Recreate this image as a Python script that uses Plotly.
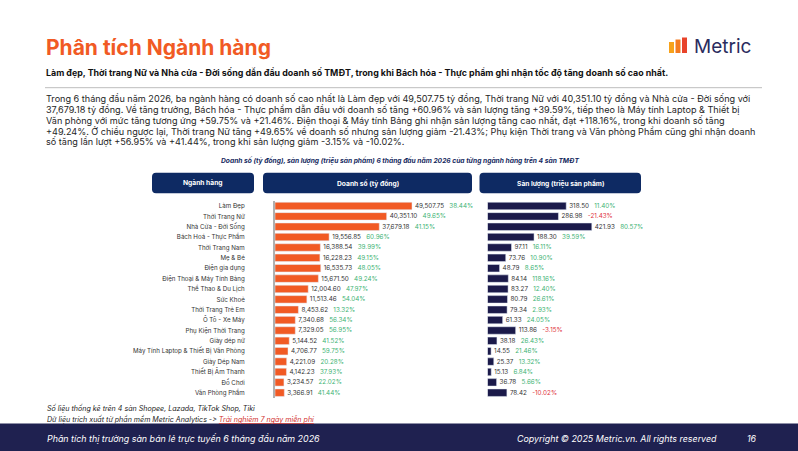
import plotly.graph_objects as go

W, H = 798, 451

categories = ["Làm Đẹp", "Thời Trang Nữ", "Nhà Cửa - Đời Sống", "Bách Hoá - Thực Phẩm",
              "Thời Trang Nam", "Mẹ & Bé", "Điện gia dụng", "Điện Thoại & Máy Tính Bảng",
              "Thể Thao & Du Lịch", "Sức Khoẻ", "Thời Trang Trẻ Em", "Ô Tô - Xe Máy",
              "Phụ Kiện Thời Trang", "Giày dép nữ", "Máy Tính Laptop & Thiết Bị Văn Phòng",
              "Giày Dép Nam", "Thiết Bị Âm Thanh", "Đồ Chơi", "Văn Phòng Phẩm"]
revenue = [49507.75, 40351.10, 37679.18, 19556.85, 16388.54, 16228.23, 16535.73, 15671.50,
           12004.60, 11513.46, 8453.62, 7340.68, 7329.05, 5144.52, 4706.77, 4221.09,
           4142.23, 3234.57, 3366.91]
revenue_growth = [38.44, 49.65, 41.15, 60.96, 39.99, 49.15, 48.05, 49.24, 47.97, 54.04,
                  13.32, 56.34, 56.95, 41.52, 59.75, 20.28, 37.93, 22.02, 41.44]
volume = [318.50, 286.98, 421.93, 188.30, 97.11, 73.76, 48.79, 84.14, 83.27, 80.79,
          79.34, 61.33, 113.86, 38.18, 14.55, 25.37, 15.13, 36.78, 78.42]
volume_growth = [11.40, -21.43, 80.57, 39.59, 16.11, 10.90, 8.65, 118.16, 12.40, 26.61,
                 2.93, 24.05, -3.15, 26.43, 21.46, 13.32, 6.84, 5.66, -10.02]

ORANGE = "#F15A24"
NAVY = "#1B1A4A"
HEAD = "#0E2A63"
GREEN = "#3DB374"
RED = "#E0313B"
FONT = "Inter"


def px(x):
    return x / W


def py(y):
    return 1 - y / H


def label(v, g):
    c = GREEN if g >= 0 else RED
    return f"{v:,.2f}&nbsp;&nbsp;&nbsp;<span style='color:{c}'>{g:.2f}%</span>"


fig = go.Figure()
fig.add_trace(go.Bar(
    x=revenue, y=categories, orientation="h", marker_color=ORANGE, width=0.72,
    text=[label(v, g) for v, g in zip(revenue, revenue_growth)], textposition="outside",
    textfont=dict(size=6.3, color="#333", family=FONT), constraintext="none",
    cliponaxis=False, xaxis="x", yaxis="y", hoverinfo="skip"))
fig.add_trace(go.Bar(
    x=volume, y=categories, orientation="h", marker_color=NAVY, width=0.72,
    text=[label(v, g) for v, g in zip(volume, volume_growth)], textposition="outside",
    textfont=dict(size=6.3, color="#333", family=FONT), constraintext="none",
    cliponaxis=False, xaxis="x2", yaxis="y2", hoverinfo="skip"))

ydom = [py(397.9), py(200.8)]
fig.update_layout(
    width=W, height=H, margin=dict(l=0, r=0, t=0, b=0),
    paper_bgcolor="white", plot_bgcolor="rgba(0,0,0,0)", showlegend=False,
    font=dict(family=FONT, color="#222"),
    xaxis=dict(domain=[px(275), px(472)], range=[0, 49507.75 * 197 / 137],
               visible=False, fixedrange=True),
    yaxis=dict(domain=ydom, categoryorder="array", categoryarray=categories,
               autorange="reversed", showline=True, linecolor="#B0B0B0", linewidth=2,
               ticks="", ticklabelstandoff=27, tickfont=dict(size=6.2, color="#333", family=FONT),
               showgrid=False, zeroline=False, anchor="x"),
    xaxis2=dict(domain=[px(487.5), px(641)], range=[0, 421.93 * 153.5 / 104.3],
                visible=False, fixedrange=True, anchor="y2"),
    yaxis2=dict(domain=ydom, categoryorder="array", categoryarray=categories,
                autorange="reversed", showticklabels=False, showgrid=False,
                zeroline=False, anchor="x2"),
)

shapes = []
ann = []

# Title & logo
ann.append(dict(x=px(44), y=py(47), xref="paper", yref="paper", xanchor="left", yanchor="middle",
                text="<b>Phân tích Ngành hàng</b>", showarrow=False,
                font=dict(size=21, color=ORANGE, family=FONT)))
for x0, y0, c in [(669, 42, "#F7A21B"), (675.5, 39.5, "#F47B20"), (682, 37.5, "#E8432A")]:
    shapes.append(dict(type="rect", xref="paper", yref="paper", x0=px(x0), x1=px(x0 + 5),
                       y0=py(53), y1=py(y0), fillcolor=c, line=dict(width=0)))
ann.append(dict(x=px(692), y=py(46), xref="paper", yref="paper", xanchor="left", yanchor="middle",
                text="Metric", showarrow=False, font=dict(size=19, color="#2A2C5E", family=FONT)))

# Subtitle
ann.append(dict(x=px(44), y=py(72.5), xref="paper", yref="paper", xanchor="left", yanchor="middle",
                text="<b>Làm đẹp, Thời trang Nữ và Nhà cửa - Đời sống dẫn đầu doanh số TMĐT, trong khi Bách hóa - Thực phẩm ghi nhận tốc độ tăng doanh số cao nhất.</b>",
                showarrow=False, font=dict(size=8.9, color="#111", family=FONT)))
shapes.append(dict(type="line", xref="paper", yref="paper", x0=px(45), x1=px(762),
                   y0=py(87.7), y1=py(87.7), line=dict(color="#BDBDBD", width=1)))

para = [
    "Trong 6 tháng đầu năm 2026, ba ngành hàng có doanh số cao nhất là Làm đẹp với 49,507.75 tỷ đồng, Thời trang Nữ với 40,351.10 tỷ đồng và Nhà cửa - Đời sống với",
    "37,679.18 tỷ đồng. Về tăng trưởng, Bách hóa - Thực phẩm dẫn đầu với doanh số tăng +60.96% và sản lượng tăng +39.59%, tiếp theo là Máy tính Laptop & Thiết bị",
    "Văn phòng với mức tăng tương ứng +59.75% và +21.46%. Điện thoại & Máy tính Bảng ghi nhận sản lượng tăng cao nhất, đạt +118.16%, trong khi doanh số tăng",
    "+49.24%. Ở chiều ngược lại, Thời trang Nữ tăng +49.65% về doanh số nhưng sản lượng giảm -21.43%; Phụ kiện Thời trang và Văn phòng Phẩm cũng ghi nhận doanh",
    "số tăng lần lượt +56.95% và +41.44%, trong khi sản lượng giảm -3.15% và -10.02%.",
]
for i, line in enumerate(para):
    ann.append(dict(x=px(44), y=py(98.3 + i * 10.9), xref="paper", yref="paper", xanchor="left",
                    yanchor="middle", text=line, showarrow=False,
                    font=dict(size=9.1, color="#262626", family=FONT)))

# Chart title
ann.append(dict(x=px(400), y=py(161), xref="paper", yref="paper", xanchor="center", yanchor="middle",
                text="<b><i>Doanh số (tỷ đồng), sản lượng (triệu sản phẩm) 6 tháng đầu năm 2026 của từng ngành hàng trên 4 sàn TMĐT</i></b>",
                showarrow=False, font=dict(size=6.7, color="#15295E", family=FONT)))


def rounded(x0, x1, y0, y1, r=4):
    rx, ry = r / W, r / H
    X0, X1, Y0, Y1 = px(x0), px(x1), py(y1), py(y0)
    return (f"M{X0+rx},{Y0} L{X1-rx},{Y0} Q{X1},{Y0} {X1},{Y0+ry} L{X1},{Y1-ry} "
            f"Q{X1},{Y1} {X1-rx},{Y1} L{X0+rx},{Y1} Q{X0},{Y1} {X0},{Y1-ry} "
            f"L{X0},{Y0+ry} Q{X0},{Y0} {X0+rx},{Y0} Z")


headers = [("Ngành hàng", 152, 254), ("Doanh số (tỷ đồng)", 263, 472), ("Sản lượng (triệu sản phẩm)", 479.5, 641)]
for t, a, b in headers:
    shapes.append(dict(type="path", xref="paper", yref="paper", path=rounded(a, b, 172.7, 193.3),
                       fillcolor=HEAD, line=dict(width=0)))
    ann.append(dict(x=px((a + b) / 2), y=py(183), xref="paper", yref="paper", xanchor="center",
                    yanchor="middle", text=f"<b>{t}</b>", showarrow=False,
                    font=dict(size=6.7, color="white", family=FONT)))

# Notes
ann.append(dict(x=px(45), y=py(408), xref="paper", yref="paper", xanchor="left", yanchor="middle",
                text="<i>Số liệu thống kê trên 4 sàn Shopee, Lazada, TikTok Shop, Tiki</i>",
                showarrow=False, font=dict(size=7.1, color="#222", family=FONT)))
ann.append(dict(x=px(45), y=py(419), xref="paper", yref="paper", xanchor="left", yanchor="middle",
                text="<i>Dữ liệu trích xuất từ phần mềm Metric Analytics -\u200c&gt; <span style='color:#D2302C'><u>Trải nghiệm 7 ngày miễn phí</u></span></i>",
                showarrow=False, font=dict(size=7.1, color="#222", family=FONT)))

# Footer
shapes.append(dict(type="rect", xref="paper", yref="paper", x0=0, x1=1, y0=0, y1=py(423.5),
                   fillcolor="#1F2150", line=dict(width=0), layer="below"))
ann.append(dict(x=px(45), y=py(438), xref="paper", yref="paper", xanchor="left", yanchor="middle",
                text="<i>Phân tích thị trường sàn bán lẻ trực tuyến 6 tháng đầu năm 2026</i>",
                showarrow=False, font=dict(size=8.9, color="white", family=FONT)))
ann.append(dict(x=px(719), y=py(438), xref="paper", yref="paper", xanchor="right", yanchor="middle",
                text="<i>Copyright © 2025 Metric.vn. All rights reserved</i>",
                showarrow=False, font=dict(size=8.9, color="white", family=FONT)))
ann.append(dict(x=px(752), y=py(438), xref="paper", yref="paper", xanchor="center", yanchor="middle",
                text="<i>16</i>", showarrow=False, font=dict(size=8.9, color="white", family=FONT)))

fig.update_layout(shapes=shapes, annotations=ann)
fig.write_html("out.html")
